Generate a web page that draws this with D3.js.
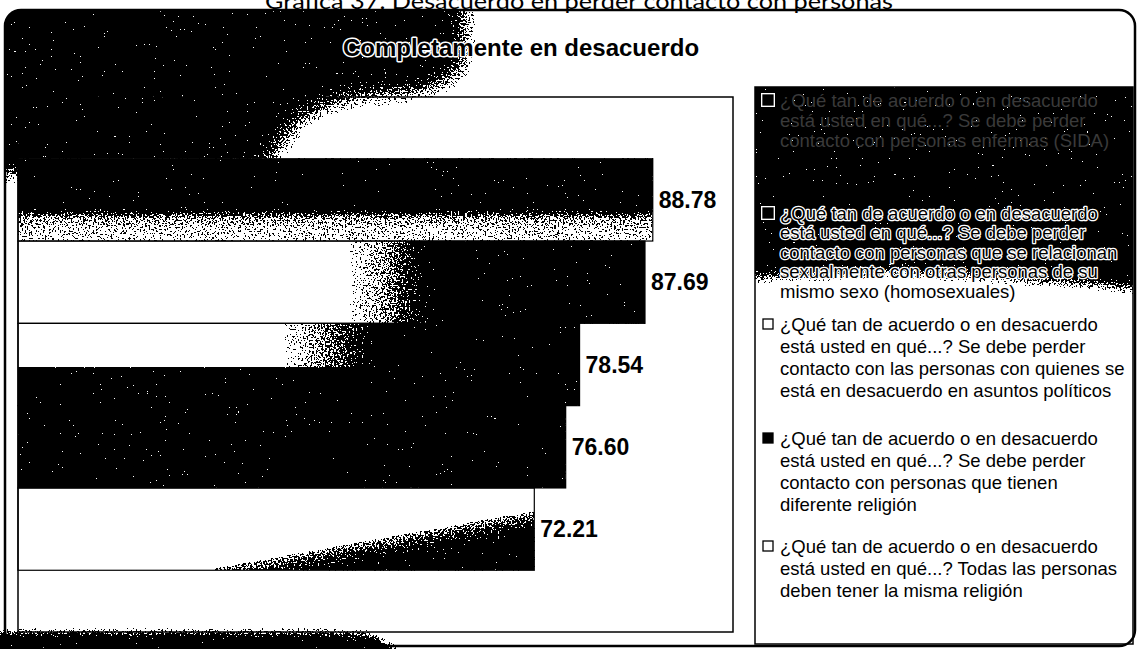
<!DOCTYPE html>
<html lang="es"><head><meta charset="utf-8">
<script src="https://cdn.jsdelivr.net/npm/d3@7/dist/d3.min.js"></script>
<style>html,body{margin:0;padding:0;background:#fff;}svg{display:block}</style>
</head><body>
<svg id="chart" width="1138" height="649"></svg>
<script>
// ---------------- data ----------------
const pageTitle = "Gráfica 37. Desacuerdo en perder contacto con personas";
const categories = ["Completamente en desacuerdo"];
const seriesKeys = ["sida", "homosexuales", "politica", "religion", "misma_religion"];
const seriesValues = [88.78, 87.69, 78.54, 76.60, 72.21];
const valueLabels = ["88.78", "87.69", "78.54", "76.60", "72.21"];
const legendLines = [
  ["¿Qué tan de acuerdo o en desacuerdo", "está usted en qué...? Se debe perder", "contacto con personas enfermas (SIDA)"],
  ["¿Qué tan de acuerdo o en desacuerdo", "está usted en qué...? Se debe perder", "contacto con personas que se relacionan", "sexualmente con otras personas de su", "mismo sexo (homosexuales)"],
  ["¿Qué tan de acuerdo o en desacuerdo", "está usted en qué...? Se debe perder", "contacto con las personas con quienes se", "está en desacuerdo en asuntos políticos"],
  ["¿Qué tan de acuerdo o en desacuerdo", "está usted en qué...? Se debe perder", "contacto con personas que tienen", "diferente religión"],
  ["¿Qué tan de acuerdo o en desacuerdo", "está usted en qué...? Todas las personas", "deben tener la misma religión"]
];
const xDomain = [0, 100];

// ---------------- layout / style ----------------
const W = 1138, H = 649;
const frame = {x: 5, y: 10, w: 1130, h: 636, r: 16};
const plot = {x0: 18, x1: 733, y0: 97, y1: 632};
const legendBox = {x0: 755, y0: 87, x1: 1133, y1: 644};
const legendStartY = [100, 213, 324, 438, 546];
const legendLineH = [20, 19.5, 22, 22.3, 22.3];
const legendHalo = [0, 2.6, 2.6, 2.6, 2.6];
const markerFill = ["#000", "#000", "#fff", "#000", "#fff"];

const svg = d3.select("#chart");
const defs = svg.append("defs");

// scanned-ink look: blur (optional) + noise + threshold, masked to the inked area
function inkFilter(id, blur, seed) {
  const f = defs.append("filter").attr("id", id)
    .attr("filterUnits", "userSpaceOnUse").attr("x", 0).attr("y", 0)
    .attr("width", W).attr("height", H)
    .attr("color-interpolation-filters", "sRGB");
  let src = "SourceGraphic";
  if (blur) { f.append("feGaussianBlur").attr("in", "SourceGraphic").attr("stdDeviation", blur).attr("result", "b"); src = "b"; }
  f.append("feTurbulence").attr("type", "fractalNoise").attr("baseFrequency", 0.55)
    .attr("numOctaves", 2).attr("seed", seed).attr("result", "n");
  f.append("feColorMatrix").attr("in", "n").attr("type", "matrix")
    .attr("values", "0 0 0 0 0  0 0 0 0 0  0 0 0 0 0  1 0 0 0 0").attr("result", "na");
  f.append("feComposite").attr("in", src).attr("in2", "na").attr("operator", "arithmetic")
    .attr("k1", 0).attr("k2", 1).attr("k3", 1.7).attr("k4", -0.85).attr("result", "s");
  f.append("feComponentTransfer").attr("in", "s").attr("result", "t")
    .append("feFuncA").attr("type", "discrete").attr("tableValues", "0 1");
  f.append("feComponentTransfer").attr("in", src).attr("result", "m")
    .append("feFuncA").attr("type", "discrete").attr("tableValues", "0 0 1 1 1 1 1 1 1 1");
  f.append("feComposite").attr("in", "t").attr("in2", "m").attr("operator", "in");
}
inkFilter("smudge", 12, 5);
inkFilter("smudgeL", 7, 9);
inkFilter("smudgeS", 4, 4);
inkFilter("grain", 0, 13);

function grad(id, x1, y1, x2, y2, stops) {
  const g = defs.append("linearGradient").attr("id", id)
    .attr("x1", x1).attr("y1", y1).attr("x2", x2).attr("y2", y2);
  stops.forEach(([o, a]) => g.append("stop").attr("offset", o).attr("stop-color", "#000").attr("stop-opacity", a));
}
grad("g1", 0, 0, 0, 1, [[0, 1], [0.6, 1], [0.72, 0.45], [0.85, 0.32], [1, 0.3]]);
grad("g2", 0, 0, 1, 0, [[0, 0], [0.5, 0.05], [0.6, 0.55], [0.66, 1], [1, 1]]);
grad("g3", 0, 0, 1, 0, [[0, 0], [0.44, 0.05], [0.56, 0.55], [0.64, 1], [1, 1]]);
grad("g5", 0, 0, 1, 1, [[0, 0], [0.45, 0.25], [0.6, 0.75], [0.72, 1], [1, 1]]);

defs.append("clipPath").attr("id", "frameClip").append("rect")
  .attr("x", frame.x).attr("y", frame.y).attr("width", frame.w).attr("height", frame.h).attr("rx", frame.r);
defs.append("clipPath").attr("id", "legClip").append("rect")
  .attr("x", legendBox.x0).attr("y", legendBox.y0)
  .attr("width", legendBox.x1 - legendBox.x0).attr("height", legendBox.y1 - legendBox.y0);

// ---------------- scales ----------------
const x = d3.scaleLinear().domain(xDomain).range([plot.x0, plot.x1]);
const yCat = d3.scaleBand().domain(categories).range([plot.y0, plot.y1]).paddingInner(0).paddingOuter(0.15);
const ySer = d3.scaleBand().domain(seriesKeys).range([0, yCat.bandwidth()]);
const barY = i => yCat(categories[0]) + ySer(seriesKeys[i]);
const bh = ySer.bandwidth();

// ---------------- background ----------------
svg.append("rect").attr("width", W).attr("height", H).attr("fill", "#fff");

// smudges from the scan (decoration)
svg.append("g").attr("clip-path", "url(#frameClip)").append("g").attr("filter", "url(#smudge)")
  .append("polygon").attr("fill", "#000").attr("points", [
    [-20, -20], [465, -20], [465, 70], [430, 90], [345, 99], [300, 118], [272, 158], [262, 175], [-20, 175]
  ].join(" "));
svg.append("g").attr("filter", "url(#smudgeS)").append("polygon").attr("fill", "#000").attr("points", [
  [-20, 632], [320, 632], [370, 634], [430, 670], [-20, 670]
].join(" "));
svg.append("g").attr("clip-path", "url(#legClip)").append("g").attr("filter", "url(#smudgeL)")
  .append("polygon").attr("fill", "#000").attr("points", [
    [700, 40], [1180, 40], [1180, 292], [1060, 282], [900, 272], [700, 280]
  ].join(" "));

// ---------------- bars ----------------
svg.append("g").selectAll("rect").data(seriesValues).join("rect")
  .attr("x", x(0)).attr("y", (d, i) => barY(i))
  .attr("width", d => x(d) - x(0)).attr("height", bh).attr("fill", "#fff");

const ink = svg.append("g").attr("filter", "url(#grain)");
seriesValues.forEach((v, i) => {
  const x0 = x(0), w = x(v) - x(0), y0 = barY(i);
  if (i === 0) ink.append("rect").attr("x", x0).attr("y", y0).attr("width", w).attr("height", bh).attr("fill", "url(#g1)");
  if (i === 1) ink.append("rect").attr("x", x0).attr("y", y0).attr("width", w).attr("height", bh).attr("fill", "url(#g2)");
  if (i === 2) {
    ink.append("rect").attr("x", x0).attr("y", y0 + bh * 0.53).attr("width", w).attr("height", bh * 0.47).attr("fill", "#000");
    ink.append("rect").attr("x", x0).attr("y", y0).attr("width", w).attr("height", bh * 0.53).attr("fill", "url(#g3)");
  }
  if (i === 3) ink.append("rect").attr("x", x0).attr("y", y0).attr("width", w).attr("height", bh).attr("fill", "#000");
  if (i === 4) ink.append("polygon").attr("fill", "url(#g5)")
    .attr("points", [[x0 + w * 0.36, y0 + bh], [x0 + w, y0 + bh * 0.28], [x0 + w, y0 + bh]].join(" "));
});

svg.append("g").selectAll("rect").data(seriesValues).join("rect")
  .attr("x", x(0)).attr("y", (d, i) => barY(i))
  .attr("width", d => x(d) - x(0)).attr("height", bh)
  .attr("fill", "none").attr("stroke", "#000").attr("stroke-width", 1.2);

// value labels
svg.append("g").selectAll("text").data(seriesValues).join("text")
  .attr("x", d => x(d) + 6).attr("y", (d, i) => barY(i) + bh / 2 + 8)
  .attr("font-family", "'Liberation Sans', Arial, sans-serif").attr("font-weight", "bold")
  .attr("font-size", 23).attr("fill", "#000")
  .text((d, i) => valueLabels[i]);

// ---------------- borders ----------------
svg.append("rect").attr("x", plot.x0).attr("y", plot.y0)
  .attr("width", plot.x1 - plot.x0).attr("height", plot.y1 - plot.y0)
  .attr("fill", "none").attr("stroke", "#000").attr("stroke-width", 1.5);
svg.append("rect").attr("x", legendBox.x0).attr("y", legendBox.y0)
  .attr("width", legendBox.x1 - legendBox.x0).attr("height", legendBox.y1 - legendBox.y0)
  .attr("fill", "none").attr("stroke", "#000").attr("stroke-width", 1.5);
svg.append("rect").attr("x", frame.x).attr("y", frame.y).attr("width", frame.w).attr("height", frame.h)
  .attr("rx", frame.r).attr("fill", "none").attr("stroke", "#000").attr("stroke-width", 2.5);

// ---------------- titles ----------------
svg.append("text").attr("x", 579).attr("y", 8.5).attr("text-anchor", "middle")
  .attr("font-family", "Lato, 'Open Sans', sans-serif").attr("font-size", 22)
  .attr("textLength", 628).attr("lengthAdjust", "spacingAndGlyphs")
  .attr("fill", "#000").text(pageTitle);

svg.append("text").attr("x", 521).attr("y", 56).attr("text-anchor", "middle")
  .attr("font-family", "'Liberation Sans', Arial, sans-serif").attr("font-weight", "bold")
  .attr("font-size", 24).attr("fill", "#000")
  .attr("stroke", "#fff").attr("stroke-width", 3).attr("paint-order", "stroke").attr("stroke-linejoin", "round")
  .text(categories[0]);

// ---------------- legend ----------------
const leg = svg.append("g");
legendLines.forEach((lines, i) => {
  const cy = legendStartY[i];
  if (i < 2) leg.append("rect").attr("x", 761).attr("y", cy - 7).attr("width", 14).attr("height", 14).attr("fill", "#fff");
  leg.append("rect").attr("x", 763).attr("y", cy - 5).attr("width", 10).attr("height", 10)
    .attr("fill", markerFill[i]).attr("stroke", "#000").attr("stroke-width", 1.3);
  lines.forEach((t, j) => {
    const tx = leg.append("text").attr("x", 780).attr("y", cy + j * legendLineH[i] + 6.5)
      .attr("font-family", "'Liberation Sans', Arial, sans-serif").attr("font-size", 18.5)
      .text(t);
    if (legendHalo[i] > 0) {
      tx.attr("fill", "#000").attr("stroke", "#fff").attr("stroke-width", legendHalo[i])
        .attr("paint-order", "stroke").attr("stroke-linejoin", "round");
    } else {
      tx.attr("fill", "#3a3a3a");
    }
  });
});
</script>
</body></html>
